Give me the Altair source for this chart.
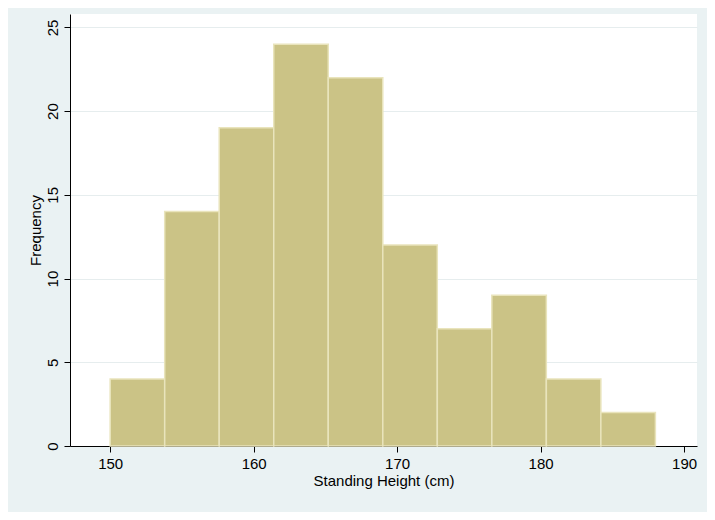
import altair as alt
import pandas as pd

bin_start = [150.0, 153.8, 157.6, 161.4, 165.2, 169.0, 172.8, 176.6, 180.4, 184.2]
bin_end = [153.8, 157.6, 161.4, 165.2, 169.0, 172.8, 176.6, 180.4, 184.2, 188.0]
counts = [4, 14, 19, 24, 22, 12, 7, 9, 4, 2]

df = pd.DataFrame({"start": bin_start, "end": bin_end, "count": counts})

chart = alt.Chart(df).mark_bar(
    fill="#CBC386", stroke="#E9E4BC", strokeWidth=1.5
).encode(
    x=alt.X("start:Q", title="Standing Height (cm)",
            scale=alt.Scale(domain=[147.2, 190.9], nice=False, zero=False),
            axis=alt.Axis(values=[150, 160, 170, 180, 190], grid=False,
                          tickSize=6, domainColor="black", tickColor="black")),
    x2="end:Q",
    y=alt.Y("count:Q", title="Frequency",
            scale=alt.Scale(domain=[0, 25.8], nice=False),
            axis=alt.Axis(values=[0, 5, 10, 15, 20, 25], labelAngle=-90,
                          labelAlign="center", labelBaseline="bottom",
                          gridColor="#E6EDEE", tickSize=6,
                          domainColor="black", tickColor="black")),
    y2=alt.datum(0),
).properties(
    width=627, height=432, background="#EAF2F3",
    autosize=alt.AutoSizeParams(type="none"),
    padding={"left": 62, "top": 6, "right": 10, "bottom": 66},
).configure_view(
    fill="white", stroke=None
).configure_axis(
    labelFont="Liberation Sans", titleFont="Liberation Sans",
    labelFontSize=15, titleFontSize=15, titleFontWeight="normal",
    labelColor="black", titleColor="black", labelPadding=4, titlePadding=2
)

chart.save("out.html", embed_options={"renderer": "svg", "actions": False})
